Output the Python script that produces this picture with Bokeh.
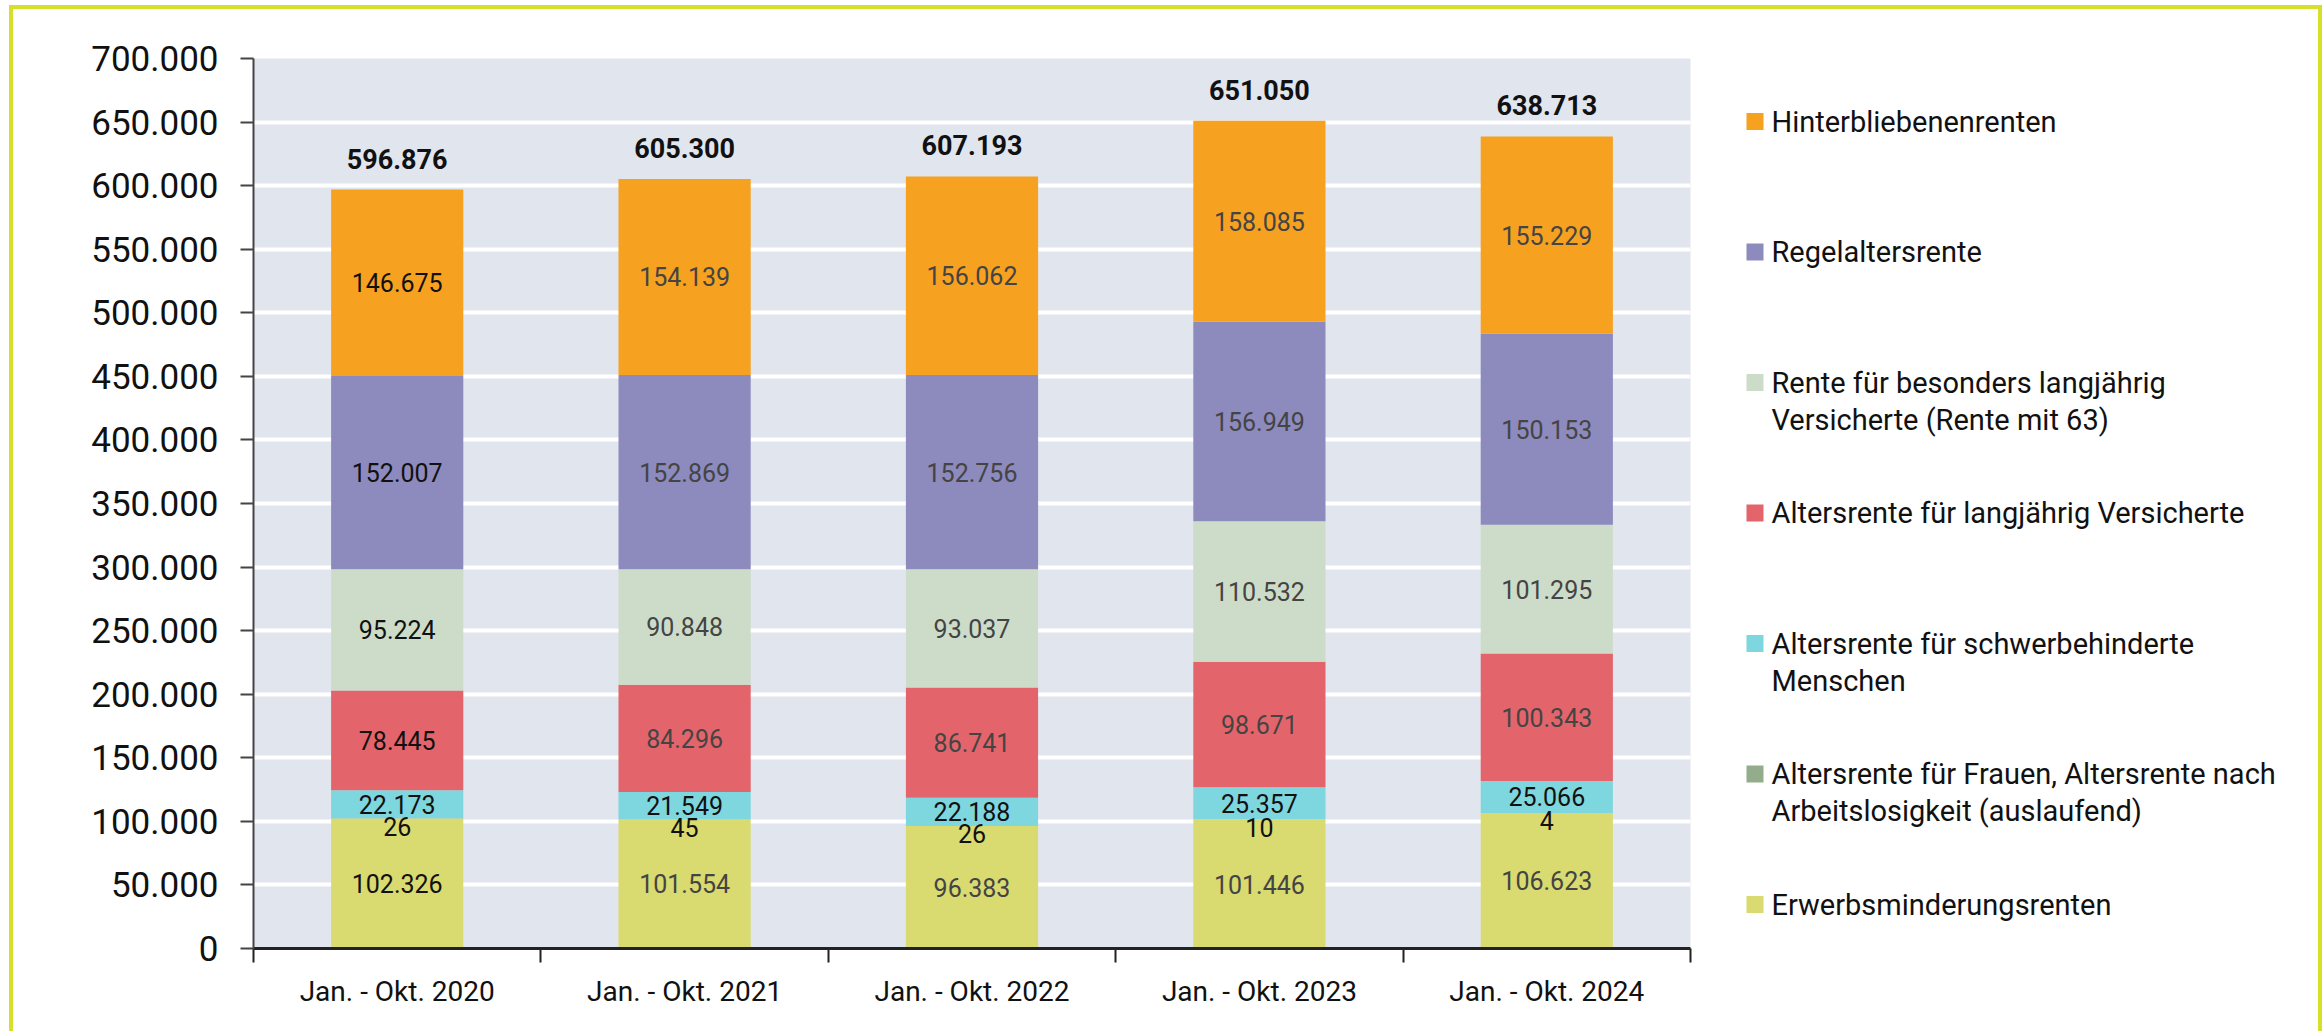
from bokeh.plotting import figure
from bokeh.layouts import row
from bokeh.models import FixedTicker, ColumnDataSource, Range1d
from bokeh.core.properties import value
from bokeh.embed import file_html
from bokeh.resources import INLINE

# ---------------- data ----------------
periods = ["Jan. - Okt. 2020", "Jan. - Okt. 2021", "Jan. - Okt. 2022",
           "Jan. - Okt. 2023", "Jan. - Okt. 2024"]

# series from bottom to top of the stack
series_names = [
    "Erwerbsminderungsrenten",
    "Altersrente für Frauen, Altersrente nach\nArbeitslosigkeit (auslaufend)",
    "Altersrente für schwerbehinderte\nMenschen",
    "Altersrente für langjährig Versicherte",
    "Rente für besonders langjährig\nVersicherte (Rente mit 63)",
    "Regelaltersrente",
    "Hinterbliebenenrenten",
]
erwerbsminderung = [102326, 101554, 96383, 101446, 106623]
frauen_arbeitslos = [26, 45, 26, 10, 4]
schwerbehindert = [22173, 21549, 22188, 25357, 25066]
langjaehrig = [78445, 84296, 86741, 98671, 100343]
rente_mit_63 = [95224, 90848, 93037, 110532, 101295]
regelalters = [152007, 152869, 152756, 156949, 150153]
hinterbliebene = [146675, 154139, 156062, 158085, 155229]
totals = [596876, 605300, 607193, 651050, 638713]

series_values = [erwerbsminderung, frauen_arbeitslos, schwerbehindert,
                 langjaehrig, rente_mit_63, regelalters, hinterbliebene]
colors = ["#D9DA6F", "#93AC8B", "#7ED6DE", "#E3656B", "#CDDCC8", "#8D8ABE", "#F7A121"]

y_ticks = list(range(0, 700001, 50000))

# ---------------- layout constants ----------------
OX, OY = 13, 9            # content origin inside the bordered box
H = 1031 - OY
W1 = 1700 - OX
W2 = 2318 - 1700
FL, FR, FT, FB = 253 - OX, 1690 - OX, 58 - OY, 948 - OY
YMAX = 700000
NCAT = len(periods)
BORDER = "#D6DF2A"

FONT = "Roboto"


def fmt(v):
    return f"{v:,}".replace(",", ".")


p = figure(width=W1, height=H, x_range=(0, NCAT), y_range=(0, YMAX),
           output_backend="svg", toolbar_location=None,
           min_border_left=FL, min_border_right=W1 - FR,
           min_border_top=FT, min_border_bottom=H - FB)
p.background_fill_color = "#E1E5EE"
p.border_fill_color = "white"
p.outline_line_color = None

# grid
p.xgrid.visible = False
p.ygrid.ticker = FixedTicker(ticks=y_ticks[1:-1])
p.ygrid.grid_line_color = "white"
p.ygrid.grid_line_width = 4

# bars
xs = [i + 0.5 for i in range(NCAT)]
data = {"x": xs}
keys = []
for k, vals in enumerate(series_values):
    key = f"s{k}"
    keys.append(key)
    data[key] = vals
source = ColumnDataSource(data)
p.vbar_stack(keys, x="x", width=0.46, color=colors, line_color=None, source=source)

# segment labels
lab_x, lab_y, lab_t, lab_c, lab_off = [], [], [], [], []
for i in range(NCAT):
    base = 0
    for k, vals in enumerate(series_values):
        v = vals[i]
        lab_x.append(xs[i])
        lab_y.append(base + v / 2)
        lab_t.append(fmt(v))
        if i == 0 or k in (1, 2):
            lab_c.append("#111111")
        else:
            lab_c.append("#444444")
        lab_off.append(8 if k == 1 else 0)
        base += v
p.text(x=lab_x, y=lab_y, text=lab_t, text_color=lab_c, y_offset=lab_off,
       text_align="center", text_baseline="middle",
       text_font=value(FONT), text_font_size="25px")

# totals
p.text(x=xs, y=totals, text=[fmt(t) for t in totals], y_offset=-31,
       text_align="center", text_baseline="middle",
       text_font=value(FONT), text_font_size="27px", text_font_style="bold",
       text_color="#111111")

# axes
p.yaxis.ticker = FixedTicker(ticks=y_ticks)
p.yaxis.major_label_overrides = {t: fmt(t) for t in y_ticks}
p.yaxis.axis_line_color = "#444444"
p.yaxis.axis_line_width = 2
p.yaxis.major_tick_line_color = "#444444"
p.yaxis.major_tick_line_width = 2
p.yaxis.major_tick_out = 13
p.yaxis.major_tick_in = 0
p.yaxis.minor_tick_line_color = None
p.yaxis.major_label_text_font = FONT
p.yaxis.major_label_text_font_size = "35px"
p.yaxis.major_label_text_color = "#111111"
p.yaxis.major_label_standoff = 22

p.xaxis.ticker = FixedTicker(ticks=xs, minor_ticks=list(range(NCAT + 1)))
p.xaxis.major_label_overrides = {x: lab for x, lab in zip(xs, periods)}
p.xaxis.axis_line_color = "#222222"
p.xaxis.axis_line_width = 3
p.xaxis.major_tick_line_color = None
p.xaxis.major_tick_out = 0
p.xaxis.major_tick_in = 0
p.xaxis.minor_tick_line_color = "#222222"
p.xaxis.minor_tick_line_width = 2
p.xaxis.minor_tick_out = 14
p.xaxis.minor_tick_in = 0
p.xaxis.major_label_text_font = FONT
p.xaxis.major_label_text_font_size = "28px"
p.xaxis.major_label_text_color = "#111111"
p.xaxis.major_label_standoff = 12

# ---------------- legend panel (pixel coordinates, y from top) ----------------
# the row aligns the frames of both plots, so the legend's frame spans FT..FB
leg = figure(width=W2, height=H, x_range=Range1d(0, W2), y_range=Range1d(FB, FT),
             output_backend="svg", toolbar_location=None,
             x_axis_location=None, y_axis_location=None,
             min_border_left=0, min_border_right=0,
             min_border_top=FT, min_border_bottom=H - FB)
leg.grid.visible = False
leg.outline_line_color = None
leg.background_fill_color = "white"
leg.border_fill_color = "white"

SQ_L, SQ = 46, 17
TXT_L = 71
Y0, PITCH, LINE = 121 - OY, 130.5, 37
order = list(range(len(series_names)))[::-1]
sq_x, sq_y, sq_c = [], [], []
t_x, t_y, t_t = [], [], []
for j, k in enumerate(order):
    cy = Y0 + j * PITCH
    sq_x.append(SQ_L + SQ / 2)
    sq_y.append(cy)
    sq_c.append(colors[k])
    for li, line in enumerate(series_names[k].split("\n")):
        t_x.append(TXT_L)
        t_y.append(cy + li * LINE)
        t_t.append(line)
leg.rect(x=sq_x, y=sq_y, width=SQ, height=SQ, fill_color=sq_c, line_color=None)
leg.text(x=t_x, y=t_y, text=t_t, text_align="left", text_baseline="middle",
         text_font=value(FONT), text_font_size="29px", text_color="#111111")

layout = row(p, leg, styles={
    "border-top": f"4px solid {BORDER}",
    "border-left": f"4px solid {BORDER}",
    "border-right": f"4px solid {BORDER}",
    "margin-left": "9px",
    "margin-top": "5px",
})

open("out.html", "w").write(file_html(layout, INLINE))
